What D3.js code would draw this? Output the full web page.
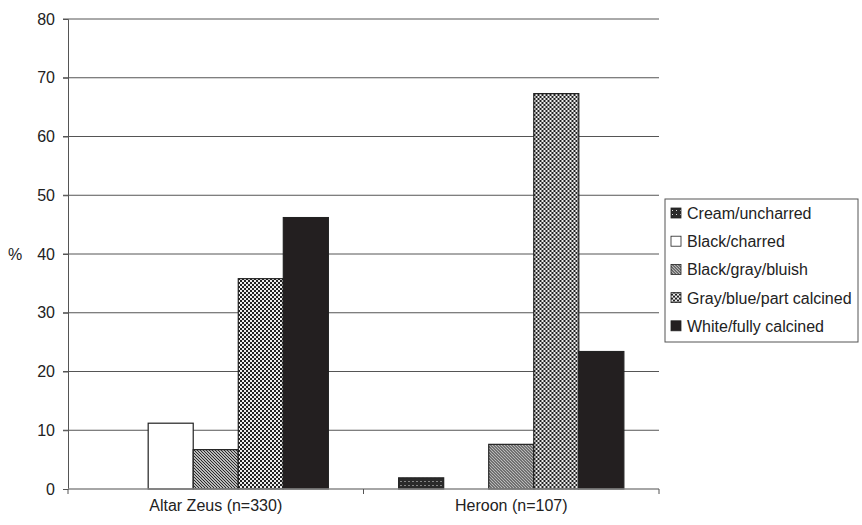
<!DOCTYPE html>
<html>
<head>
<meta charset="utf-8">
<script src="https://cdn.jsdelivr.net/npm/d3@7"></script>
<style>
body { margin: 0; background: #fff; }
text { font-family: "Liberation Sans", Arial, sans-serif; fill: #222; }
</style>
</head>
<body>
<script>
var categories = ["Altar Zeus (n=330)", "Heroon (n=107)"]
var series = ["Cream/uncharred", "Black/charred", "Black/gray/bluish", "Gray/blue/part calcined", "White/fully calcined"]
// valores por serie, en el orden de las categorías
var cream = [0, 1.9]
var charred = [11.2, 0]
var bluish = [6.7, 7.6]
var partCalcined = [35.8, 67.3]
var fullyCalcined = [46.2, 23.4]
var yTicks = [0, 10, 20, 30, 40, 50, 60, 70, 80]

var values = [cream, charred, bluish, partCalcined, fullyCalcined]

var svg = d3.select("body").append("svg")
    .attr("width", 862)
    .attr("height", 525)

// patrones de relleno
var defs = svg.append("defs")

var p0 = defs.append("pattern").attr("id", "p0").attr("patternUnits", "userSpaceOnUse")
    .attr("width", 4).attr("height", 4)
p0.append("rect").attr("width", 4).attr("height", 4).attr("fill", "#2a2a2a")
p0.append("rect").attr("x", 1).attr("y", 1).attr("width", 1).attr("height", 1).attr("fill", "#ddd")

var p1 = defs.append("pattern").attr("id", "p1").attr("patternUnits", "userSpaceOnUse")
    .attr("width", 6).attr("height", 6)
p1.append("rect").attr("width", 6).attr("height", 6).attr("fill", "#fff")

var p2 = defs.append("pattern").attr("id", "p2").attr("patternUnits", "userSpaceOnUse")
    .attr("width", 3).attr("height", 3)
p2.append("rect").attr("width", 3).attr("height", 3).attr("fill", "#fff")
p2.append("path").attr("d", "M-1,-1 L4,4 M-1,2 L1,4 M2,-1 L4,1")
    .attr("stroke", "#222").attr("stroke-width", 1.2)

var p3 = defs.append("pattern").attr("id", "p3").attr("patternUnits", "userSpaceOnUse")
    .attr("width", 4).attr("height", 4)
p3.append("rect").attr("width", 4).attr("height", 4).attr("fill", "#eee")
p3.append("rect").attr("width", 2).attr("height", 2).attr("fill", "#222")
p3.append("rect").attr("x", 2).attr("y", 2).attr("width", 2).attr("height", 2).attr("fill", "#222")

var fills = ["url(#p0)", "url(#p1)", "url(#p2)", "url(#p3)", "#231f20"]

var x0 = d3.scaleBand()
    .domain(categories)
    .range([68, 659])

var x1 = d3.scaleBand()
    .domain(series)
    .range([0, x0.bandwidth()])
    .paddingOuter(0.78)

var y = d3.scaleLinear()
    .domain([0, 80])
    .range([489, 19])

// rejilla
svg.append("g")
    .selectAll("line")
    .data(yTicks.slice(1))
    .enter()
    .append("line")
    .attr("x1", 63)
    .attr("x2", 659)
    .attr("y1", d => y(d))
    .attr("y2", d => y(d))
    .attr("stroke", "#555")
    .attr("stroke-width", 1)

// barras
var grupos = svg.append("g")
    .selectAll("g")
    .data(categories)
    .enter()
    .append("g")
    .attr("transform", d => "translate(" + x0(d) + ",0)")

grupos.selectAll("rect")
    .data((c, i) => series.map((s, j) => ({ serie: s, j: j, v: values[j][i] })))
    .enter()
    .filter(d => d.v > 0)
    .append("rect")
    .attr("x", d => x1(d.serie))
    .attr("width", x1.bandwidth())
    .attr("y", d => y(d.v))
    .attr("height", d => y(0) - y(d.v))
    .attr("fill", d => fills[d.j])
    .attr("stroke", "#222")
    .attr("stroke-width", 1.2)

// ejes
var ejeY = svg.append("g")
    .attr("transform", "translate(68,0)")
    .call(d3.axisLeft(y).tickValues(yTicks).tickSize(5).tickPadding(8))
ejeY.select(".domain").attr("stroke", "#555")
ejeY.selectAll(".tick line").attr("stroke", "#555")
ejeY.selectAll("text").style("font-size", "16px")

var ejeX = svg.append("g")
    .attr("transform", "translate(0,489)")
ejeX.append("line")
    .attr("x1", 68).attr("x2", 659)
    .attr("stroke", "#888").attr("stroke-width", 1.5)
ejeX.selectAll("line.t")
    .data([x0.range()[0], x0(categories[1]), x0.range()[1]])
    .enter()
    .append("line")
    .attr("class", "t")
    .attr("x1", d => d).attr("x2", d => d)
    .attr("y1", 0).attr("y2", 5)
    .attr("stroke", "#555")
ejeX.selectAll("text")
    .data(categories)
    .enter()
    .append("text")
    .attr("x", d => x0(d) + x0.bandwidth() / 2)
    .attr("y", 22)
    .attr("text-anchor", "middle")
    .style("font-size", "16px")
    .text(d => d)

svg.append("text")
    .attr("x", 15)
    .attr("y", 260)
    .attr("text-anchor", "middle")
    .style("font-size", "16px")
    .text("%")

// leyenda
var leyenda = svg.append("g")
    .attr("transform", "translate(665,199)")
leyenda.append("rect")
    .attr("width", 193)
    .attr("height", 143)
    .attr("fill", "#fff")
    .attr("stroke", "#555")

var items = leyenda.selectAll("g")
    .data(series)
    .enter()
    .append("g")
    .attr("transform", (d, i) => "translate(6," + (14 + i * 28.2) + ")")
items.append("rect")
    .attr("x", 0).attr("y", -5)
    .attr("width", 10).attr("height", 10)
    .attr("fill", (d, i) => fills[i])
    .attr("stroke", "#222")
    .attr("stroke-width", 0.8)
items.append("text")
    .attr("x", 16)
    .attr("y", 6)
    .style("font-size", "16px")
    .text(d => d)
</script>
</body>
</html>
